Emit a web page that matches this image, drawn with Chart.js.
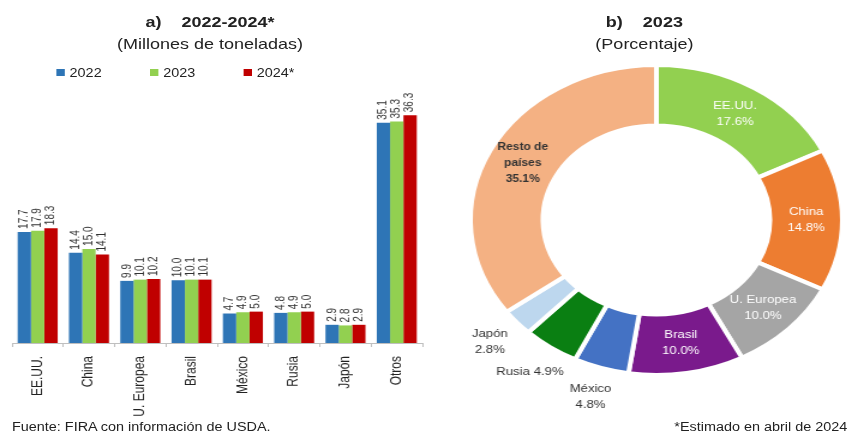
<!DOCTYPE html>
<html>
<head>
<meta charset="utf-8">
<script src="https://cdn.jsdelivr.net/npm/chart.js@4.4.1/dist/chart.umd.min.js"></script>
<style>
  html, body { margin: 0; padding: 0; background: #fff; overflow: hidden; }
  #page {
    position: absolute; left: 0; top: 0; width: 707px; height: 439px;
    transform: scaleX(1.2); transform-origin: 0 0;
    font-family: "Liberation Sans", Arial, sans-serif; color: #222;
  }
  .t { position: absolute; white-space: nowrap; text-align: center; line-height: 18px; }
  .b { font-weight: bold; }
  .lg { position: absolute; top: 66px; font-size: 12px; line-height: 14px; white-space: nowrap; }
  .lg i { display: inline-block; width: 7px; height: 7px; margin-right: 4px; vertical-align: 1px; }
  #barWrap { position: absolute; left: 0; top: 0; width: 360px; height: 439px; }
  #pieWrap { position: absolute; left: 375px; top: 35px; width: 344px; height: 390px; }
</style>
</head>
<body>
<div id="page">
  <div class="t b" style="left:0;width:350px;top:13px;font-size:15px;">a)&nbsp;&nbsp;&nbsp;&nbsp;2022-2024*</div>
  <div class="t" style="left:0;width:350px;top:35px;font-size:15px;">(Millones de toneladas)</div>
  <div id="legend"></div>

  <div class="t b" style="left:437px;width:200px;top:13px;font-size:15px;">b)&nbsp;&nbsp;&nbsp;&nbsp;2023</div>
  <div class="t" style="left:437px;width:200px;top:35px;font-size:15px;">(Porcentaje)</div>

  <div id="barWrap"><canvas id="bars"></canvas></div>
  <div id="pieWrap"><canvas id="pie"></canvas></div>

  <div class="t" style="left:10px;top:418px;font-size:12px;text-align:left;">Fuente: FIRA con información de USDA.</div>
  <div class="t" style="right:1px;top:418px;font-size:12px;text-align:right;">*Estimado en abril de 2024</div>
</div>

<script>
// Production by country, millions of tonnes
const categories = ['EE.UU.', 'China', 'U. Europea', 'Brasil', 'México', 'Rusia', 'Japón', 'Otros'];
const years = ['2022', '2023', '2024*'];
const values2022 = [17.7, 14.4, 9.9, 10.0, 4.7, 4.8, 2.9, 35.1];
const values2023 = [17.9, 15.0, 10.1, 10.1, 4.9, 4.9, 2.8, 35.3];
const values2024 = [18.3, 14.1, 10.2, 10.1, 5.0, 5.0, 2.9, 36.3];

// 2023 share by country, percent
const shareLabels = ['EE.UU.', 'China', 'U. Europea', 'Brasil', 'México', 'Rusia', 'Japón', 'Resto de países'];
const shares2023 = [17.6, 14.8, 10.0, 10.0, 4.8, 4.9, 2.8, 35.1];

const barColors = ['#2e75b6', '#92d050', '#c00000'];
const pieColors = ['#92d050', '#ed7d31', '#a5a5a5', '#7a1a8c', '#4472c4', '#0a7f12', '#bdd7ee', '#f4b183'];
const FONT = '"Liberation Sans", Arial, sans-serif';

// legend for the bar chart
const legendLeft = [47, 125, 203];
const legend = document.getElementById('legend');
years.forEach((y, i) => {
  const d = document.createElement('div');
  d.className = 'lg';
  d.style.left = legendLeft[i] + 'px';
  d.innerHTML = '<i style="background:' + barColors[i] + '"></i>' + y;
  legend.appendChild(d);
});

// value labels written vertically above each bar
const barValueLabels = {
  id: 'barValueLabels',
  afterDatasetsDraw(chart) {
    const ctx = chart.ctx;
    ctx.save();
    ctx.font = '10px ' + FONT;
    ctx.fillStyle = '#333';
    chart.data.datasets.forEach((ds, i) => {
      chart.getDatasetMeta(i).data.forEach((bar, j) => {
        ctx.save();
        ctx.translate(bar.x, bar.y - 3);
        ctx.rotate(-Math.PI / 2);
        ctx.textAlign = 'left';
        ctx.textBaseline = 'middle';
        ctx.fillText(ds.data[j].toFixed(1), 0, 0);
        ctx.restore();
      });
    });
    ctx.restore();
  }
};

new Chart(document.getElementById('bars'), {
  type: 'bar',
  data: {
    labels: categories,
    datasets: [
      { label: years[0], data: values2022, backgroundColor: barColors[0] },
      { label: years[1], data: values2023, backgroundColor: barColors[1] },
      { label: years[2], data: values2024, backgroundColor: barColors[2] }
    ]
  },
  options: {
    responsive: true,
    maintainAspectRatio: false,
    animation: false,
    layout: { padding: { left: 10, right: 8, top: 92, bottom: 16 } },
    datasets: { bar: { categoryPercentage: 0.78, barPercentage: 1.0 } },
    plugins: { legend: { display: false }, tooltip: { enabled: false } },
    scales: {
      x: {
        grid: { display: true, offset: true, drawOnChartArea: false, drawTicks: true, tickLength: 4, color: '#bfbfbf' },
        border: { display: true, color: '#bfbfbf' },
        ticks: { autoSkip: false, minRotation: 90, maxRotation: 90, padding: 9, color: '#222', font: { family: FONT, size: 12 } },
        afterFit(scale) { scale.height = 80; }
      },
      y: { display: false, min: 0, max: 40 }
    }
  },
  plugins: [barValueLabels]
});

// segment labels: inside the ring or just outside it
const outsideLabels = ['México', 'Rusia', 'Japón'];
const oneLineLabels = ['Rusia'];
const whiteLabels = ['EE.UU.', 'China', 'U. Europea', 'Brasil'];

const pieLabels = {
  id: 'pieLabels',
  afterDatasetsDraw(chart) {
    const ctx = chart.ctx;
    const meta = chart.getDatasetMeta(0);
    ctx.save();
    ctx.textAlign = 'center';
    ctx.textBaseline = 'middle';
    meta.data.forEach((arc, i) => {
      const name = shareLabels[i];
      const pct = shares2023[i].toFixed(1) + '%';
      let x, y;
      if (outsideLabels.includes(name)) {
        const mid = (arc.startAngle + arc.endAngle) / 2;
        const r = arc.outerRadius + 30;
        x = arc.x + Math.cos(mid) * r;
        y = arc.y + Math.sin(mid) * r;
      } else {
        const p = arc.getCenterPoint();
        x = p.x; y = p.y;
      }
      let lines;
      if (oneLineLabels.includes(name)) lines = [name + ' ' + pct];
      else if (name === 'Resto de países') lines = ['Resto de', 'países', pct];
      else lines = [name, pct];
      const white = whiteLabels.includes(name);
      ctx.fillStyle = white ? '#ffffff' : '#333';
      ctx.font = (name === 'Resto de países' ? 'bold 10px ' : '11px ') + FONT;
      const lh = 16;
      lines.forEach((ln, k) => {
        ctx.fillText(ln, x, y + (k - (lines.length - 1) / 2) * lh);
      });
    });
    ctx.restore();
  }
};

new Chart(document.getElementById('pie'), {
  type: 'doughnut',
  data: {
    labels: shareLabels,
    datasets: [{
      data: shares2023,
      backgroundColor: pieColors,
      borderColor: '#ffffff',
      borderWidth: 4
    }]
  },
  options: {
    responsive: true,
    maintainAspectRatio: false,
    animation: false,
    cutout: '61%',
    layout: { padding: { left: 10, right: 10, top: 28, bottom: 48 } },
    plugins: { legend: { display: false }, tooltip: { enabled: false } }
  },
  plugins: [pieLabels]
});
</script>
</body>
</html>
